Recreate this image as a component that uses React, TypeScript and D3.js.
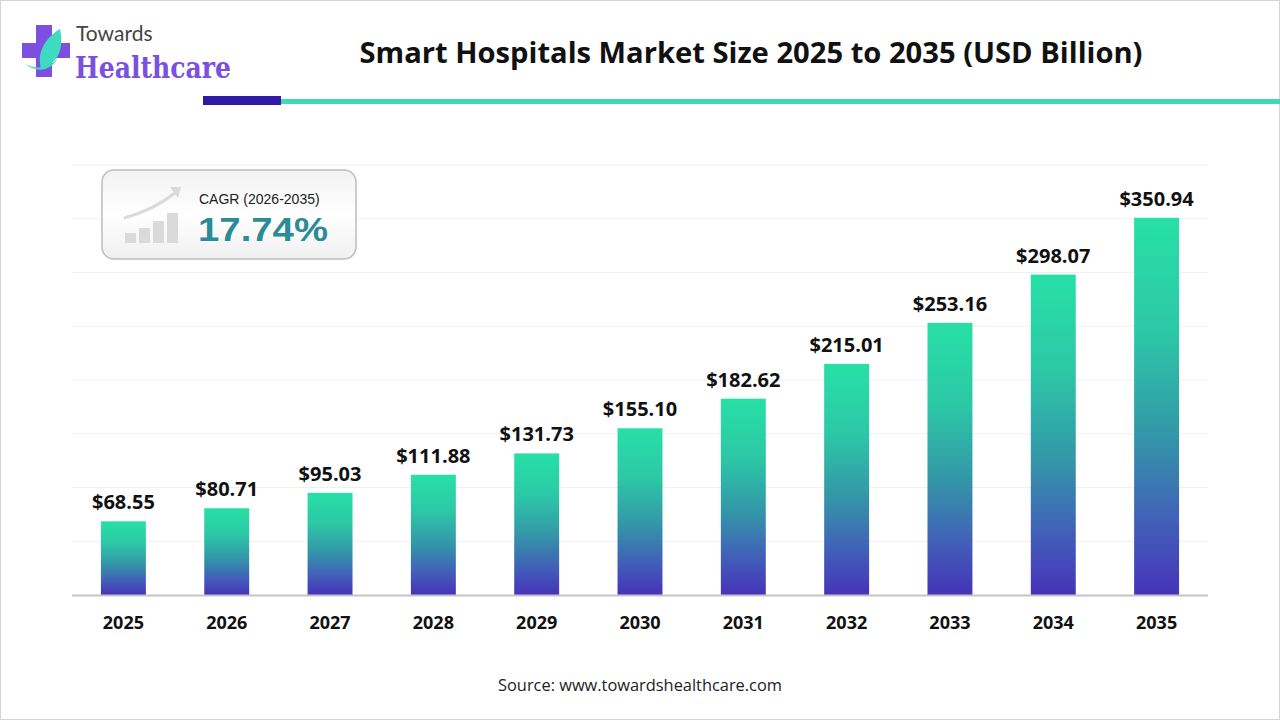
import { useEffect, useRef } from 'react';
import * as d3 from 'd3';

const years = ['2025', '2026', '2027', '2028', '2029', '2030', '2031', '2032', '2033', '2034', '2035'];
const marketSize = [68.55, 80.71, 95.03, 111.88, 131.73, 155.1, 182.62, 215.01, 253.16, 298.07, 350.94];
const gridTicks = [0, 50, 100, 150, 200, 250, 300, 350, 400];

const WIDTH = 1280;
const HEIGHT = 720;

export default function App() {
  const svgRef = useRef<SVGSVGElement>(null);

  useEffect(() => {
    if (!svgRef.current) return;
    document.body.style.margin = '0';
    document.body.style.overflow = 'hidden';
    const svg = d3.select(svgRef.current);
    svg.selectAll('*').remove();

    const margin = { top: 165, right: 72, bottom: 125, left: 72 };
    const innerWidth = WIDTH - margin.left - margin.right;
    const innerHeight = HEIGHT - margin.top - margin.bottom;

    const defs = svg.append('defs');
    const grad = defs.append('linearGradient')
      .attr('id', 'barGrad')
      .attr('x1', 0).attr('y1', 0).attr('x2', 0).attr('y2', 1);
    grad.append('stop').attr('offset', '0%').attr('stop-color', '#27e0a6');
    grad.append('stop').attr('offset', '30%').attr('stop-color', '#2cc8a6');
    grad.append('stop').attr('offset', '58%').attr('stop-color', '#3396a8');
    grad.append('stop').attr('offset', '80%').attr('stop-color', '#4161b8');
    grad.append('stop').attr('offset', '100%').attr('stop-color', '#4633b8');

    const boxGrad = defs.append('linearGradient')
      .attr('id', 'boxGrad')
      .attr('x1', 0).attr('y1', 0).attr('x2', 0).attr('y2', 1);
    boxGrad.append('stop').attr('offset', '0%').attr('stop-color', '#f2f2f2');
    boxGrad.append('stop').attr('offset', '50%').attr('stop-color', '#ffffff');
    boxGrad.append('stop').attr('offset', '100%').attr('stop-color', '#f0f0f0');

    // page background + border
    svg.append('rect')
      .attr('x', 0.5).attr('y', 0.5)
      .attr('width', WIDTH - 1).attr('height', HEIGHT - 1)
      .attr('fill', '#ffffff')
      .attr('stroke', '#d4d4d4');

    // header
    svg.append('text')
      .attr('x', 751)
      .attr('y', 63)
      .attr('text-anchor', 'middle')
      .attr('textLength', 783)
      .attr('lengthAdjust', 'spacingAndGlyphs')
      .style('font-family', '"Open Sans", sans-serif')
      .style('font-weight', 700)
      .style('font-size', '28px')
      .style('fill', '#111111')
      .text('Smart Hospitals Market Size 2025 to 2035 (USD Billion)');

    svg.append('rect')
      .attr('x', 281).attr('y', 99).attr('width', 999).attr('height', 5)
      .attr('fill', '#3ddbb4');
    svg.append('rect')
      .attr('x', 203).attr('y', 96).attr('width', 78).attr('height', 9)
      .attr('fill', '#2e1aa6');

    // logo
    const logo = svg.append('g');
    logo.append('path')
      .attr('d', 'M36,25 h16 v18 h18 v15 h-18 v19 h-16 v-19 h-14 v-15 h14 z')
      .attr('fill', '#7c4fe0');
    logo.append('path')
      .attr('d', 'M60,29 C42,40 37,56 41,68 C55,65 65,52 60,29 z')
      .attr('fill', '#3ddbc0');
    logo.append('path')
      .attr('d', 'M24,63 C34,70 48,69 58,58 C50,72 36,73 24,63 z')
      .attr('fill', '#3ddbc0');
    logo.append('text')
      .attr('x', 76).attr('y', 41)
      .style('font-family', 'Lato, sans-serif')
      .style('font-size', '21px')
      .style('fill', '#444444')
      .text('Towards');
    logo.append('text')
      .attr('x', 75).attr('y', 78)
      .attr('textLength', 156)
      .attr('lengthAdjust', 'spacingAndGlyphs')
      .style('font-family', '"DejaVu Serif", serif')
      .style('font-weight', 700)
      .style('font-size', '30px')
      .style('fill', '#7b4fe0')
      .text('Healthcare');

    const g = svg.append('g')
      .attr('transform', `translate(${margin.left},${margin.top})`);

    const x = d3.scaleBand()
      .domain(years)
      .range([0, innerWidth])
      .paddingInner(0.565)
      .paddingOuter(0.28);

    const y = d3.scaleLinear()
      .domain([0, 400])
      .range([innerHeight, 0]);

    g.selectAll('.grid')
      .data(gridTicks.slice(1))
      .join('line')
      .attr('class', 'grid')
      .attr('x1', 0)
      .attr('x2', innerWidth)
      .attr('y1', d => y(d))
      .attr('y2', d => y(d))
      .attr('stroke', '#efefef')
      .attr('stroke-width', 1);

    g.selectAll('.bar')
      .data(marketSize)
      .join('rect')
      .attr('class', 'bar')
      .attr('x', (_, i) => x(years[i]) || 0)
      .attr('y', d => y(d))
      .attr('width', x.bandwidth())
      .attr('height', d => innerHeight - y(d))
      .attr('fill', 'url(#barGrad)');

    g.append('line')
      .attr('x1', 0).attr('x2', innerWidth)
      .attr('y1', innerHeight + 0.5).attr('y2', innerHeight + 0.5)
      .attr('stroke', '#c4c4c4')
      .attr('stroke-width', 2);

    g.selectAll('.label')
      .data(marketSize)
      .join('text')
      .attr('class', 'label')
      .attr('x', (_, i) => (x(years[i]) || 0) + x.bandwidth() / 2)
      .attr('y', d => y(d) - 12)
      .attr('text-anchor', 'middle')
      .style('font-family', '"Open Sans", sans-serif')
      .style('font-weight', 700)
      .style('font-size', '20px')
      .style('fill', '#111111')
      .text(d => `$${d.toFixed(2)}`);

    g.selectAll('.year')
      .data(years)
      .join('text')
      .attr('class', 'year')
      .attr('x', d => (x(d) || 0) + x.bandwidth() / 2)
      .attr('y', innerHeight + 34)
      .attr('text-anchor', 'middle')
      .style('font-family', '"Open Sans", sans-serif')
      .style('font-weight', 700)
      .style('font-size', '18px')
      .style('fill', '#111111')
      .text(d => d);

    // CAGR box
    const box = svg.append('g');
    box.append('rect')
      .attr('x', 102).attr('y', 170)
      .attr('width', 254).attr('height', 89)
      .attr('rx', 12)
      .attr('fill', 'url(#boxGrad)')
      .attr('stroke', '#bdbdbd')
      .attr('stroke-width', 1.5);
    const iconBars = [
      { x: 125, h: 10 },
      { x: 139, h: 15 },
      { x: 153, h: 22 },
      { x: 167, h: 30 },
    ];
    box.selectAll('.icon')
      .data(iconBars)
      .join('rect')
      .attr('class', 'icon')
      .attr('x', d => d.x)
      .attr('y', d => 243 - d.h)
      .attr('width', 11)
      .attr('height', d => d.h)
      .attr('fill', '#dadada');
    box.append('path')
      .attr('d', 'M124,218 C146,212 164,202 176,192')
      .attr('fill', 'none')
      .attr('stroke', '#dadada')
      .attr('stroke-width', 3);
    box.append('path')
      .attr('d', 'M170,187 L181,187 L178,198 z')
      .attr('fill', '#dadada');
    box.append('text')
      .attr('x', 199).attr('y', 204)
      .style('font-family', '"Liberation Sans", Arial, sans-serif')
      .style('font-size', '14px')
      .style('fill', '#222222')
      .text('CAGR (2026-2035)');
    box.append('text')
      .attr('x', 198).attr('y', 241)
      .attr('textLength', 130)
      .attr('lengthAdjust', 'spacingAndGlyphs')
      .style('font-family', '"Liberation Sans", Arial, sans-serif')
      .style('font-weight', 700)
      .style('font-size', '34px')
      .style('fill', '#2b8b97')
      .text('17.74%');

    svg.append('text')
      .attr('x', 640).attr('y', 691)
      .attr('text-anchor', 'middle')
      .attr('textLength', 284)
      .attr('lengthAdjust', 'spacingAndGlyphs')
      .style('font-family', '"Open Sans", sans-serif')
      .style('font-size', '16px')
      .style('fill', '#222222')
      .text('Source: www.towardshealthcare.com');
  }, []);

  return (
    <div style={{ width: WIDTH, height: HEIGHT }}>
      <svg ref={svgRef} width={WIDTH} height={HEIGHT} style={{ display: 'block' }}></svg>
    </div>
  );
}
